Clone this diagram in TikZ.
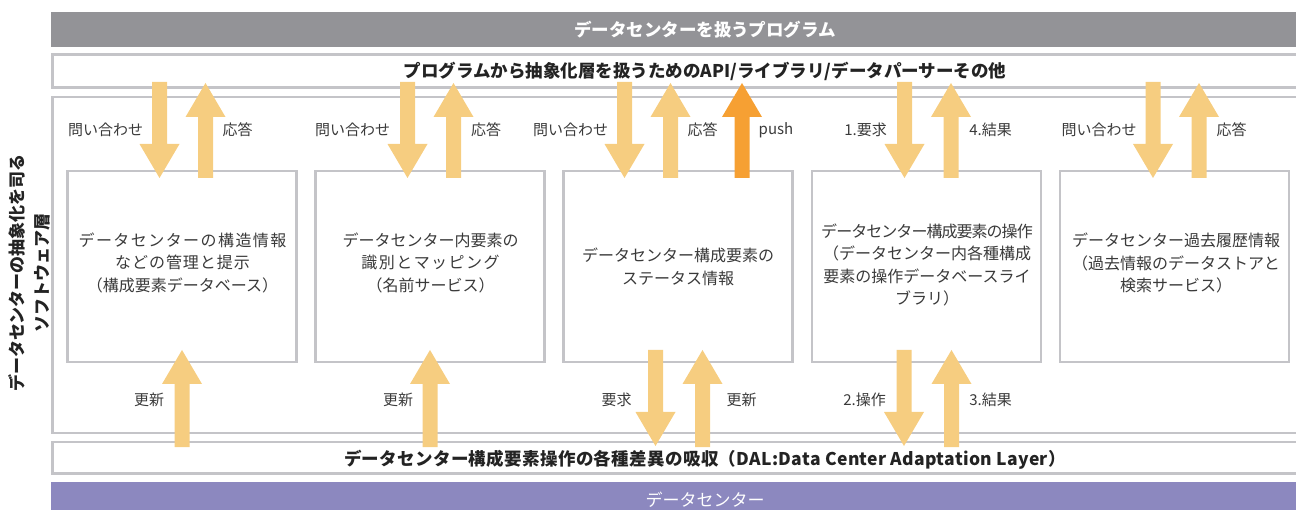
\documentclass[tikz,border=0pt]{standalone}
\usepackage{fontspec}
\setmainfont{Noto Sans CJK JP}
\definecolor{barGray}{HTML}{939397}
\definecolor{barPurple}{HTML}{8C88BF}
\definecolor{frameGray}{HTML}{C4C4C8}
\definecolor{arrowLight}{HTML}{F6CD80}
\definecolor{arrowPush}{HTML}{F6A033}
\definecolor{textDark}{HTML}{232323}
\definecolor{textMid}{HTML}{3A3A3A}
\newcommand\arrdown[4][arrowLight]{%
  \fill[#1] ({#2-7.5},#3) -- ({#2+7.5},#3) -- ({#2+7.5},{#4-34}) -- ({#2+20},{#4-34})
    -- (#2,#4) -- ({#2-20},{#4-34}) -- ({#2-7.5},{#4-34}) -- cycle;}
\newcommand\arrup[4][arrowLight]{%
  \fill[#1] ({#2-7.5},#3) -- ({#2+7.5},#3) -- ({#2+7.5},{#4+34}) -- ({#2+20},{#4+34})
    -- (#2,#4) -- ({#2-20},{#4+34}) -- ({#2-7.5},{#4+34}) -- cycle;}
\tikzset{
  frame/.style={draw=frameGray, line width=2.2pt},
  innerbox/.style={frame, fill=white, minimum width=229pt, minimum height=191pt, inner sep=0pt},
  titletext/.style={font=\bfseries\fontsize{17.5pt}{21pt}\selectfont, text=textDark, inner sep=0pt},
  boxtext/.style={font=\fontsize{16pt}{22.5pt}\selectfont, text=textMid, align=center, inner sep=0pt},
  lbl/.style={font=\fontsize{15pt}{18pt}\selectfont, text=textMid, inner sep=0pt},
}
\begin{document}
\begin{tikzpicture}[x=1pt,y=-1pt]
\useasboundingbox (0,0) rectangle (1296,510);
\clip (0,0) rectangle (1296,510);
% top program bar
\fill[barGray] (51,12) rectangle (1359,47);
\node[titletext, text=white] (prog) at (705,29.5) {データセンターを扱うプログラム};
% API layer
\draw[frame] (52.5,54.5) rectangle (1358,87.5);
\node[titletext] (api) at (705,71) {プログラムから抽象化層を扱うためのAPI/ライブラリ/データパーサーその他};
% software layer
\draw[frame] (52.5,97) rectangle (1358,433);
% DAL
\draw[frame] (52.5,442) rectangle (1358,473.5);
\node[titletext] (dal) at (705,459.5) {{\addfontfeature{LetterSpace=2}データセンター構成要素操作の各種差異の吸収（DAL:Data Center Adaptation Layer）}};
% data center bar
\fill[barPurple] (51,482) rectangle (1359,530);
\node[font=\fontsize{17pt}{21pt}\selectfont, text=white, inner sep=0pt] (dc) at (705,500) {データセンター};
% vertical label
\node[font=\bfseries\fontsize{17pt}{25pt}\selectfont, text=textDark, align=center, rotate=90, inner sep=0pt] (swl) at (29.5,273)
  {データセンターの抽象化を司る\\ソフトウェア層};
% inner boxes
\node[innerbox] (b1) at (182,266.5) {};
\node[innerbox] (b2) at (430,266.5) {};
\node[innerbox] (b3) at (678,266.5) {};
\node[innerbox] (b4) at (926.5,266.5) {};
\node[innerbox] (b5) at (1174.5,266.5) {};
\node[boxtext] (t1) at (182.5,262.5) {{\addfontfeature{LetterSpace=9}データセンターの構造情報}\\{\addfontfeature{LetterSpace=6}などの管理と提示}\\（構成要素データベース）};
\node[boxtext] (t2) at (430.5,262.5) {データセンター内要素の\\{\addfontfeature{LetterSpace=9}識別とマッピング}\\（名前サービス）};
\node[boxtext] (t3) at (678,267) {データセンター構成要素の\\ステータス情報};
\node[boxtext] (t4) at (927,265) {\addfontfeature{LetterSpace=-6}データセンター構成要素の操作\\（データセンター内各種構成\\要素の操作データベースライ\\ブラリ）};
\node[boxtext] (t5) at (1176,263) {データセンター過去履歴情報\\（過去情報のデータストアと\\検索サービス）};
% top arrows
\arrdown{159.5}{82}{178}  \arrup{205.5}{178}{83}
\arrdown{407.5}{82}{178}  \arrup{453.5}{178}{83}
\arrdown{624.5}{82}{178}  \arrup{670.5}{178}{83}
\arrup[arrowPush]{742}{178}{83}
\arrdown{904.5}{82}{178}  \arrup{951}{178}{83}
\arrdown{1153}{82}{178}   \arrup{1199}{178}{83}
% bottom arrows
\arrup{182}{447}{350}
\arrup{430}{447}{350}
\arrdown{655.5}{350}{446} \arrup{702.5}{447}{350}
\arrdown{904}{350}{446}   \arrup{951.5}{447}{350}
% top labels
\node[lbl] (q1) at (105.5,130) {問い合わせ};
\node[lbl] (r1) at (237.5,130) {応答};
\node[lbl] (q2) at (352.5,130) {問い合わせ};
\node[lbl] (r2) at (486,130) {応答};
\node[lbl] (q3) at (570.5,130) {問い合わせ};
\node[lbl] (r3) at (702.5,130) {応答};
\node[lbl] (p3) at (776,130) {push};
\node[lbl] (q4) at (865.5,130) {1.要求};
\node[lbl] (r4) at (990.5,130) {4.結果};
\node[lbl] (q5) at (1099,130) {問い合わせ};
\node[lbl] (r5) at (1231.5,130) {応答};
% bottom labels
\node[lbl] (u1) at (149,400) {更新};
\node[lbl] (u2) at (398,400) {更新};
\node[lbl] (d3) at (616.5,400) {要求};
\node[lbl] (u3) at (741.5,400) {更新};
\node[lbl] (d4) at (864.5,400) {2.操作};
\node[lbl] (u4) at (990.5,400) {3.結果};
\end{tikzpicture}
\end{document}
